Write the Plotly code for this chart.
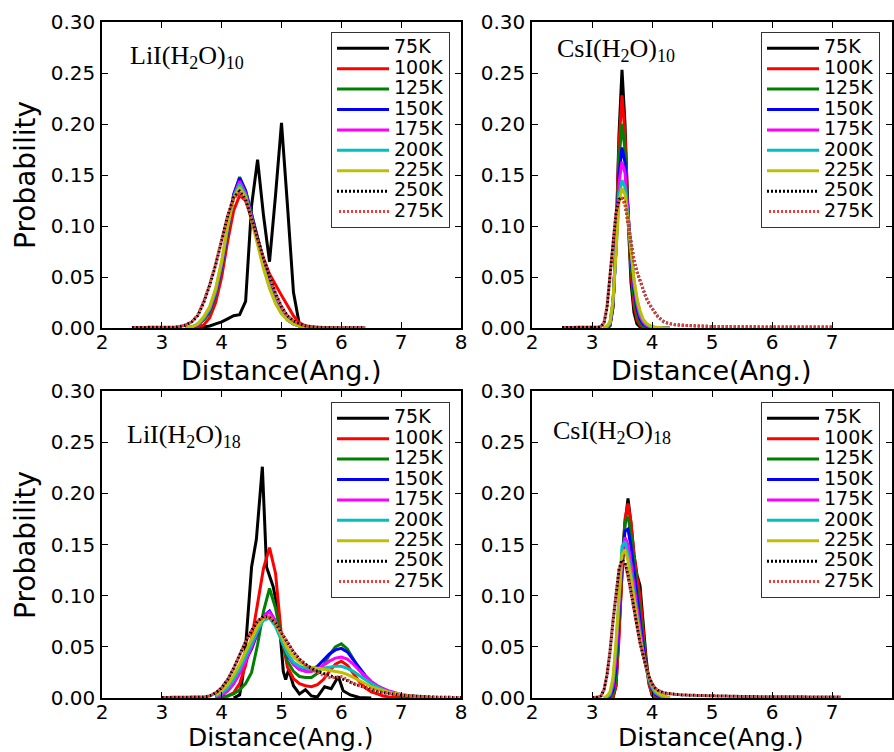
import plotly.graph_objects as go

# ---------------- data ----------------
temps = ["75K", "100K", "125K", "150K", "175K", "200K", "225K", "250K", "275K"]
colors = ["#000000", "#ff0000", "#008000", "#0000ff", "#ff00ff", "#00bfbf", "#bfbf00", "#000000", "#ee3b3b"]

# LiI(H2O)10
x_li10_core = [3.4, 3.5, 3.6, 3.7, 3.8, 3.9, 4.0, 4.1, 4.2, 4.3, 4.4, 4.5, 4.6, 4.7, 4.8, 4.9,
               5.0, 5.1, 5.2, 5.3, 5.4, 5.5, 5.6, 5.7, 5.8]
x_li10_full = [2.5, 2.6, 2.7, 2.8, 2.9, 3.0, 3.1, 3.2, 3.3, 3.4, 3.5, 3.6, 3.7, 3.8, 3.9, 4.0,
               4.1, 4.2, 4.3, 4.4, 4.5, 4.6, 4.7, 4.8, 4.9, 5.0, 5.1, 5.2, 5.3, 5.4, 5.5, 5.6,
               5.7, 5.8, 5.9, 6.0, 6.1, 6.2, 6.3, 6.4]
li10_75K = [0, 0, 0, 0.001, 0.002, 0.004, 0.006, 0.009, 0.012, 0.013, 0.026, 0.12, 0.165, 0.11,
            0.065, 0.13, 0.201, 0.12, 0.035, 0.003, 0, 0, 0, 0, 0]
li10_100K = [0, 0, 0.001, 0.003, 0.01, 0.025, 0.05, 0.085, 0.115, 0.13, 0.125, 0.108, 0.088,
             0.068, 0.053, 0.042, 0.032, 0.022, 0.012, 0.005, 0.002, 0.001, 0, 0, 0]
li10_125K = [0, 0.001, 0.003, 0.008, 0.015, 0.032, 0.058, 0.095, 0.13, 0.148, 0.135, 0.112,
             0.088, 0.063, 0.042, 0.026, 0.015, 0.008, 0.004, 0.002, 0.001, 0.0005, 0, 0, 0]
li10_150K = [0, 0.001, 0.003, 0.009, 0.017, 0.034, 0.06, 0.097, 0.131, 0.147, 0.134, 0.111,
             0.087, 0.062, 0.041, 0.026, 0.015, 0.008, 0.004, 0.002, 0.001, 0.0005, 0, 0, 0]
li10_175K = [0, 0.001, 0.003, 0.009, 0.018, 0.035, 0.062, 0.098, 0.129, 0.144, 0.132, 0.11,
             0.086, 0.062, 0.041, 0.026, 0.015, 0.008, 0.004, 0.002, 0.001, 0.0005, 0, 0, 0]
li10_200K = [0, 0.001, 0.004, 0.01, 0.019, 0.037, 0.064, 0.099, 0.128, 0.141, 0.13, 0.108,
             0.084, 0.06, 0.04, 0.025, 0.014, 0.008, 0.004, 0.002, 0.001, 0.0005, 0, 0, 0]
li10_225K = [0, 0.001, 0.004, 0.011, 0.021, 0.039, 0.066, 0.1, 0.127, 0.138, 0.128, 0.106,
             0.082, 0.058, 0.039, 0.024, 0.014, 0.008, 0.004, 0.002, 0.001, 0.0005, 0, 0, 0]
li10_250K = [0.0005, 0.0005, 0.0005, 0.0005, 0.0005, 0.0005, 0.0005, 0.0008, 0.0015, 0.003,
             0.006, 0.012, 0.025, 0.042, 0.062, 0.086, 0.11, 0.128, 0.134, 0.126, 0.108, 0.088,
             0.068, 0.05, 0.034, 0.021, 0.012, 0.007, 0.004, 0.002, 0.0012, 0.0008, 0.0005,
             0.0005, 0.0005, 0.0005, 0.0005, 0.0005, 0.0005, 0.0005]
li10_275K = [0.0005, 0.0005, 0.0005, 0.0005, 0.0005, 0.0005, 0.0005, 0.0008, 0.0015, 0.003,
             0.006, 0.013, 0.026, 0.043, 0.063, 0.087, 0.11, 0.127, 0.132, 0.125, 0.107, 0.087,
             0.068, 0.05, 0.034, 0.021, 0.012, 0.007, 0.004, 0.002, 0.0012, 0.0008, 0.0005,
             0.0005, 0.0005, 0.0005, 0.0005, 0.0005, 0.0005, 0.0005]

# CsI(H2O)10
x_cs_core = [3.2, 3.25, 3.3, 3.35, 3.4, 3.45, 3.5, 3.55, 3.6, 3.65, 3.7, 3.75, 3.8, 3.85, 3.9,
             3.95, 4.0, 4.05, 4.1, 4.15, 4.2, 4.25, 4.3]
x_cs10_full = [2.5, 2.6, 2.7, 2.8, 2.9, 3.0, 3.1, 3.15, 3.2, 3.25, 3.3, 3.35, 3.4, 3.45, 3.5,
               3.55, 3.6, 3.65, 3.7, 3.75, 3.8, 3.85, 3.9, 3.95, 4.0, 4.05, 4.1, 4.15, 4.2,
               4.25, 4.3, 4.35, 4.4, 4.45, 4.5, 4.75, 5.0, 5.5, 6.0, 6.5, 7.0]
cs10_75K = [0, 0, 0.002, 0.02, 0.085, 0.19, 0.253, 0.2, 0.11, 0.045, 0.015, 0.004, 0.001,
            0, 0, 0, 0, 0, 0, 0, 0, 0, 0]
cs10_100K = [0, 0, 0.003, 0.022, 0.085, 0.18, 0.228, 0.19, 0.115, 0.055, 0.022, 0.008, 0.003,
             0.001, 0, 0, 0, 0, 0, 0, 0, 0, 0]
cs10_125K = [0, 0.001, 0.003, 0.022, 0.08, 0.165, 0.2, 0.175, 0.115, 0.062, 0.03, 0.013, 0.005,
             0.002, 0.001, 0, 0, 0, 0, 0, 0, 0, 0]
cs10_150K = [0, 0.001, 0.004, 0.024, 0.078, 0.15, 0.177, 0.162, 0.115, 0.07, 0.038, 0.019,
             0.009, 0.004, 0.002, 0.001, 0, 0, 0, 0, 0, 0, 0]
cs10_175K = [0, 0.001, 0.004, 0.025, 0.077, 0.142, 0.163, 0.152, 0.112, 0.072, 0.042, 0.023,
             0.012, 0.006, 0.003, 0.0015, 0.001, 0, 0, 0, 0, 0, 0]
cs10_200K = [0, 0.001, 0.005, 0.026, 0.075, 0.13, 0.145, 0.138, 0.108, 0.074, 0.046, 0.027,
             0.015, 0.008, 0.004, 0.002, 0.001, 0.0005, 0, 0, 0, 0, 0]
cs10_225K = [0, 0.002, 0.006, 0.028, 0.074, 0.124, 0.137, 0.131, 0.105, 0.075, 0.048, 0.029,
             0.017, 0.009, 0.005, 0.003, 0.0015, 0.001, 0.0005, 0, 0, 0, 0]
cs10_250K = [0.0005, 0.0005, 0.0005, 0.0005, 0.0005, 0.0005, 0.0008, 0.0015, 0.005, 0.02,
             0.05, 0.085, 0.113, 0.126, 0.128, 0.122, 0.102, 0.082, 0.066, 0.055, 0.046, 0.037,
             0.03, 0.024, 0.019, 0.015, 0.011, 0.008, 0.006, 0.005, 0.004, 0.0035, 0.003,
             0.0028, 0.0025, 0.002, 0.0015, 0.001, 0.001, 0.001, 0.001]
cs10_275K = [0.0005, 0.0005, 0.0005, 0.0005, 0.0005, 0.0005, 0.0008, 0.0015, 0.005, 0.021,
             0.051, 0.086, 0.113, 0.125, 0.127, 0.121, 0.102, 0.083, 0.067, 0.055, 0.046, 0.037,
             0.03, 0.024, 0.019, 0.015, 0.011, 0.008, 0.006, 0.005, 0.004, 0.0035, 0.003,
             0.0028, 0.0025, 0.002, 0.0015, 0.001, 0.001, 0.001, 0.001]

# LiI(H2O)18
x_li18_75K = [4.2, 4.3, 4.35, 4.4, 4.5, 4.58, 4.68, 4.75, 4.86, 4.95, 5.03, 5.07, 5.12, 5.2,
              5.3, 5.4, 5.5, 5.6, 5.72, 5.83, 5.95, 6.03, 6.15, 6.3, 6.5]
li18_75K = [0, 0.003, 0.02, 0.05, 0.128, 0.155, 0.226, 0.128, 0.109, 0.083, 0.026, 0.018,
            0.028, 0.012, 0.004, 0.008, 0.002, 0.001, 0.011, 0.009, 0.021, 0.007, 0.003,
            0.0005, 0]
x_li18_core = [3.9, 4.0, 4.1, 4.2, 4.3, 4.4, 4.5, 4.6, 4.7, 4.8, 4.9, 5.0, 5.1, 5.2, 5.3, 5.4,
               5.5, 5.6, 5.7, 5.8, 5.9, 6.0, 6.1, 6.2, 6.3, 6.4, 6.5, 6.6, 6.7, 6.8, 6.9, 7.0,
               7.1, 7.2, 7.3, 7.4, 7.5]
x_li18_full = [3.0, 3.1, 3.2, 3.3, 3.4, 3.5, 3.6, 3.7, 3.8, 3.9, 4.0, 4.1, 4.2, 4.3, 4.4, 4.5,
               4.6, 4.7, 4.8, 4.9, 5.0, 5.1, 5.2, 5.3, 5.4, 5.5, 5.6, 5.7, 5.8, 5.9, 6.0, 6.1,
               6.2, 6.3, 6.4, 6.5, 6.6, 6.7, 6.8, 6.9, 7.0, 7.1, 7.2, 7.3, 7.4, 7.5, 7.6, 7.7,
               7.8, 7.9, 8.0]
li18_100K = [0, 0.001, 0.002, 0.005, 0.014, 0.032, 0.058, 0.092, 0.127, 0.147, 0.122, 0.06,
             0.03, 0.019, 0.014, 0.012, 0.011, 0.013, 0.018, 0.026, 0.033, 0.036, 0.032, 0.024,
             0.016, 0.01, 0.006, 0.004, 0.002, 0.001, 0.0005, 0, 0, 0, 0, 0, 0]
li18_125K = [0, 0.001, 0.002, 0.004, 0.008, 0.014, 0.025, 0.052, 0.085, 0.107, 0.088, 0.058,
             0.036, 0.026, 0.021, 0.02, 0.02, 0.024, 0.032, 0.042, 0.05, 0.053, 0.048, 0.038,
             0.028, 0.02, 0.014, 0.01, 0.007, 0.005, 0.0035, 0.0025, 0.0017, 0.0012, 0.0008,
             0.0005, 0.0003]
li18_150K = [0.001, 0.003, 0.007, 0.014, 0.025, 0.036, 0.048, 0.064, 0.08, 0.085, 0.075, 0.057,
             0.042, 0.033, 0.028, 0.027, 0.028, 0.031, 0.037, 0.043, 0.047, 0.0485, 0.045, 0.037,
             0.029, 0.022, 0.016, 0.012, 0.009, 0.006, 0.0045, 0.003, 0.002, 0.0015, 0.001,
             0.0007, 0.0005]
li18_175K = [0.001, 0.003, 0.007, 0.014, 0.024, 0.036, 0.05, 0.066, 0.08, 0.084, 0.075, 0.058,
             0.043, 0.033, 0.028, 0.026, 0.026, 0.028, 0.032, 0.036, 0.039, 0.04, 0.038, 0.033,
             0.027, 0.021, 0.016, 0.012, 0.009, 0.007, 0.005, 0.0035, 0.0025, 0.0018, 0.0012,
             0.0008, 0.0005]
li18_200K = [0.002, 0.005, 0.01, 0.018, 0.028, 0.04, 0.053, 0.066, 0.076, 0.078, 0.07, 0.056,
             0.043, 0.035, 0.031, 0.029, 0.028, 0.028, 0.029, 0.03, 0.031, 0.031, 0.029, 0.026,
             0.022, 0.018, 0.014, 0.011, 0.008, 0.006, 0.0045, 0.0033, 0.0024, 0.0017, 0.0012,
             0.0008, 0.0005]
li18_225K = [0.003, 0.007, 0.013, 0.022, 0.033, 0.045, 0.058, 0.07, 0.078, 0.08, 0.073, 0.06,
             0.048, 0.04, 0.035, 0.032, 0.03, 0.029, 0.028, 0.027, 0.026, 0.025, 0.023, 0.02,
             0.017, 0.014, 0.011, 0.009, 0.007, 0.0055, 0.0043, 0.0033, 0.0025, 0.0018, 0.0013,
             0.0009, 0.0006]
li18_250K = [0.0005, 0.0005, 0.0005, 0.0005, 0.0005, 0.0005, 0.0005, 0.001, 0.002, 0.005,
             0.01, 0.018, 0.029, 0.042, 0.055, 0.066, 0.075, 0.08, 0.079, 0.073, 0.064, 0.054,
             0.045, 0.038, 0.033, 0.029, 0.026, 0.024, 0.022, 0.02, 0.019, 0.017, 0.014, 0.012,
             0.01, 0.008, 0.0065, 0.0052, 0.0042, 0.0034, 0.0027, 0.0022, 0.0018, 0.0015,
             0.0012, 0.001, 0.0008, 0.0007, 0.0006, 0.0005, 0.0005]
li18_275K = [0.0005, 0.0005, 0.0005, 0.0005, 0.0005, 0.0005, 0.0005, 0.001, 0.002, 0.005,
             0.01, 0.018, 0.029, 0.042, 0.055, 0.066, 0.075, 0.079, 0.079, 0.073, 0.064, 0.054,
             0.045, 0.038, 0.032, 0.028, 0.025, 0.022, 0.02, 0.02, 0.021, 0.018, 0.014, 0.012,
             0.01, 0.008, 0.0065, 0.0052, 0.0042, 0.0034, 0.0027, 0.0022, 0.0018, 0.0015,
             0.0012, 0.001, 0.0008, 0.0007, 0.0006, 0.0005, 0.0005]

# CsI(H2O)18
x_cs18_full = [3.0, 3.05, 3.1, 3.15, 3.2, 3.25, 3.3, 3.35, 3.4, 3.45, 3.5, 3.55, 3.6, 3.65,
               3.7, 3.75, 3.8, 3.85, 3.9, 3.95, 4.0, 4.05, 4.1, 4.15, 4.2, 4.25, 4.3, 4.35,
               4.4, 4.45, 4.5, 4.75, 5.0, 5.5, 6.0, 6.5, 7.0, 7.15]
cs18_75K = [0, 0, 0, 0, 0.012, 0.06, 0.12, 0.17, 0.195, 0.17, 0.14, 0.12, 0.11, 0.075, 0.04,
            0.015, 0.003, 0, 0, 0, 0, 0, 0]
cs18_100K = [0, 0, 0, 0.001, 0.012, 0.058, 0.125, 0.175, 0.19, 0.172, 0.14, 0.118, 0.1, 0.068,
             0.035, 0.013, 0.004, 0.001, 0, 0, 0, 0, 0]
cs18_125K = [0, 0, 0.001, 0.004, 0.018, 0.07, 0.135, 0.172, 0.177, 0.16, 0.132, 0.107, 0.085,
             0.058, 0.033, 0.016, 0.007, 0.003, 0.001, 0, 0, 0, 0]
cs18_150K = [0, 0, 0.002, 0.008, 0.03, 0.08, 0.135, 0.163, 0.165, 0.148, 0.122, 0.098, 0.075,
             0.052, 0.032, 0.018, 0.009, 0.004, 0.002, 0.001, 0, 0, 0]
cs18_175K = [0, 0.001, 0.003, 0.012, 0.04, 0.092, 0.14, 0.157, 0.15, 0.132, 0.11, 0.088, 0.066,
             0.046, 0.03, 0.018, 0.01, 0.005, 0.003, 0.0015, 0.001, 0, 0]
cs18_200K = [0, 0.001, 0.004, 0.017, 0.05, 0.1, 0.148, 0.153, 0.14, 0.122, 0.1, 0.08, 0.06,
             0.043, 0.029, 0.018, 0.011, 0.006, 0.004, 0.002, 0.001, 0.0005, 0]
cs18_225K = [0, 0.002, 0.006, 0.02, 0.055, 0.102, 0.14, 0.145, 0.134, 0.117, 0.096, 0.077,
             0.059, 0.043, 0.03, 0.02, 0.013, 0.008, 0.005, 0.003, 0.002, 0.001, 0.0005]
cs18_250K = [0.0005, 0.0005, 0.0008, 0.002, 0.008, 0.022, 0.045, 0.075, 0.104, 0.126, 0.135,
             0.132, 0.12, 0.104, 0.086, 0.068, 0.054, 0.042, 0.03, 0.021, 0.014, 0.01, 0.0075,
             0.006, 0.005, 0.0045, 0.004, 0.0037, 0.0035, 0.0033, 0.003, 0.0025, 0.002,
             0.0015, 0.0012, 0.001, 0.001, 0.001]
cs18_275K = [0.0005, 0.0005, 0.0008, 0.002, 0.008, 0.023, 0.046, 0.076, 0.104, 0.125, 0.133,
             0.131, 0.119, 0.103, 0.086, 0.068, 0.054, 0.042, 0.03, 0.021, 0.014, 0.01, 0.0075,
             0.006, 0.005, 0.0045, 0.004, 0.0037, 0.0035, 0.0033, 0.003, 0.0025, 0.002,
             0.0015, 0.0012, 0.001, 0.001, 0.001]

# panel labels: (formula prefix, hydrogen count, suffix, water count)
panel_labels = [("LiI(H", "2", "O)", "10"), ("CsI(H", "2", "O)", "10"),
                ("LiI(H", "2", "O)", "18"), ("CsI(H", "2", "O)", "18")]
x_label = "Distance(Ang.)"
y_label = "Probability"
x_ticks = [2, 3, 4, 5, 6, 7, 8]
y_ticks = [0.0, 0.05, 0.10, 0.15, 0.20, 0.25, 0.30]

panels = [
    ([x_li10_core] * 7 + [x_li10_full] * 2,
     [li10_75K, li10_100K, li10_125K, li10_150K, li10_175K, li10_200K, li10_225K, li10_250K, li10_275K]),
    ([x_cs_core] * 7 + [x_cs10_full] * 2,
     [cs10_75K, cs10_100K, cs10_125K, cs10_150K, cs10_175K, cs10_200K, cs10_225K, cs10_250K, cs10_275K]),
    ([x_li18_75K] + [x_li18_core] * 6 + [x_li18_full] * 2,
     [li18_75K, li18_100K, li18_125K, li18_150K, li18_175K, li18_200K, li18_225K, li18_250K, li18_275K]),
    ([x_cs_core] * 7 + [x_cs18_full] * 2,
     [cs18_75K, cs18_100K, cs18_125K, cs18_150K, cs18_175K, cs18_200K, cs18_225K, cs18_250K, cs18_275K]),
]

# ---------------- layout geometry ----------------
W, H = 894, 752
xdoms = [(102 / W, 461 / W), (532 / W, 892 / W)]
ydoms = [(1 - 328 / H, 1 - 22 / H), (1 - 698 / H, 1 - 391 / H)]

fig = go.Figure()
FONT = "DejaVu Sans, Liberation Sans, sans-serif"
legend_names = ["legend", "legend2", "legend3", "legend4"]
dashes = [None] * 7 + ["2px,2px", "0px,2px,2px,0px"]

for p, (xs, ys) in enumerate(panels):
    ax = "" if p == 0 else str(p + 1)
    for i, name in enumerate(temps):
        line = dict(color=colors[i], width=3)
        if dashes[i]:
            line["dash"] = dashes[i]
        fig.add_trace(go.Scatter(x=xs[i], y=ys[i], mode="lines",
                                 name="<span style='font-size:19px'>" + name + "</span>",
                                 line=line, xaxis="x" + ax, yaxis="y" + ax,
                                 legend=legend_names[p], hoverinfo="skip"))

axis_common = dict(showgrid=False, zeroline=False, showline=True, linecolor="black",
                   linewidth=1.6, mirror="ticks", ticks="inside", ticklen=6, tickwidth=1,
                   tickcolor="black", automargin=False,
                   tickfont=dict(family=FONT, size=20, color="black"))

layout = dict(width=W, height=H, margin=dict(l=0, r=0, t=0, b=0),
              paper_bgcolor="white", plot_bgcolor="white", template="none",
              font=dict(family=FONT, color="black"))

legend_pos = [(450 / W, 1 - 32 / H), (880 / W, 1 - 32 / H),
              (450 / W, 1 - 402 / H), (880 / W, 1 - 402 / H)]
for p in range(4):
    r, c = divmod(p, 2)
    ax = "" if p == 0 else str(p + 1)
    layout["xaxis" + ax] = dict(axis_common, domain=list(xdoms[c]), range=[2, 8],
                                tickvals=x_ticks, anchor="y" + ax, ticklabelstandoff=-5)
    layout["yaxis" + ax] = dict(axis_common, domain=list(ydoms[r]), range=[0, 0.3],
                                tickvals=y_ticks, tickformat=".2f", anchor="x" + ax,
                                ticklabelstandoff=1)
    layout[legend_names[p]] = dict(x=legend_pos[p][0], y=legend_pos[p][1], xanchor="right",
                                   yanchor="top", bgcolor="white", bordercolor="#333333",
                                   borderwidth=1, font=dict(family=FONT, size=13.4, color="black"),
                                   itemwidth=52, tracegroupgap=0)

fig.update_layout(**layout)

# panel labels (explicit sizes for every text run)
label_pos = [(128, 57), (555, 50), (125, 436), (551, 432)]
for p in range(4):
    a, b, c2, d = panel_labels[p]
    txt = ("<span style='font-size:26px'>" + a + "</span>"
           "<sub><span style='font-size:18px'>" + b + "</span></sub>"
           "<span style='font-size:26px'>" + c2 + "</span>"
           "<sub><span style='font-size:18px'>" + d + "</span></sub>")
    fig.add_annotation(text=txt, xref="paper", yref="paper",
                       x=label_pos[p][0] / W, y=1 - label_pos[p][1] / H,
                       xanchor="left", yanchor="middle", showarrow=False,
                       font=dict(family="Liberation Serif, Times New Roman, serif", size=26,
                                 color="black"))

# axis titles
for (cx, cy, fs) in [(280.5, 370, 27), (710.5, 370, 27), (280.5, 737.5, 25), (710.5, 737.5, 25)]:
    fig.add_annotation(text=x_label, xref="paper", yref="paper", x=cx / W, y=1 - cy / H,
                       xanchor="center", yanchor="middle", showarrow=False,
                       font=dict(family=FONT, size=fs, color="black"))
for cy in [175, 545]:
    fig.add_annotation(text=y_label, xref="paper", yref="paper", x=25 / W, y=1 - cy / H,
                       xanchor="center", yanchor="middle", showarrow=False, textangle=-90,
                       font=dict(family=FONT, size=28, color="black"))

fig.write_html("out.html", config={"displayModeBar": False},
               post_script="document.body.style.margin='0px';document.body.style.overflow='hidden';")
